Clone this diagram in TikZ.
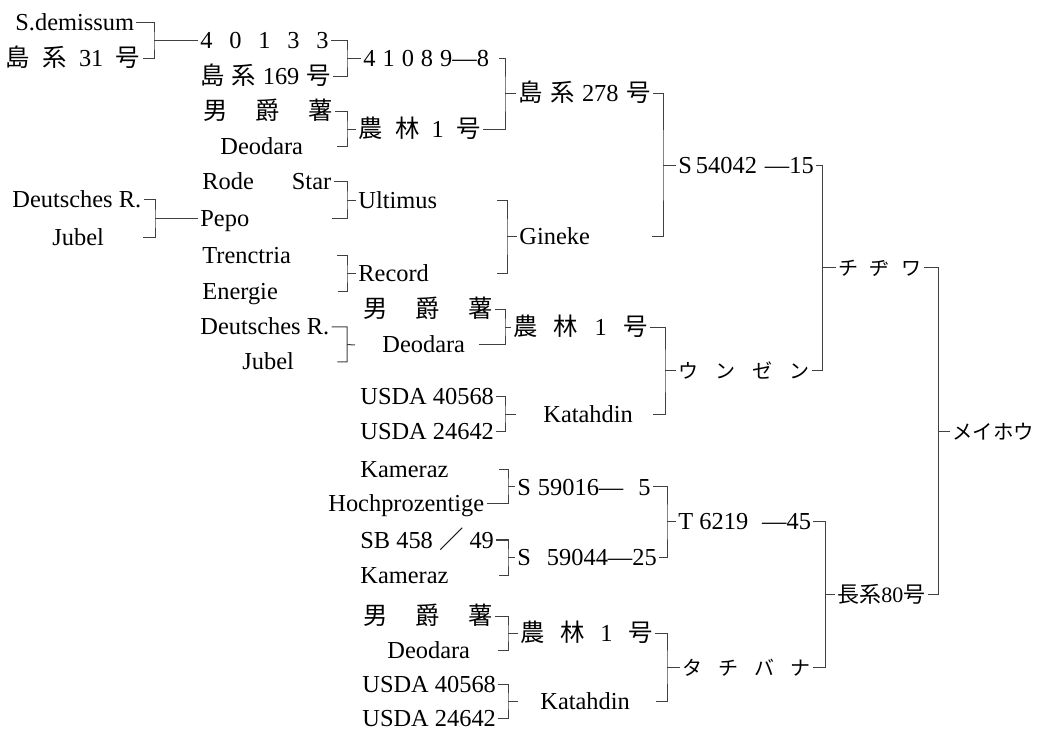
\documentclass[tikz,border=0pt]{standalone}
\usepackage{fontspec}
\setmainfont{Liberation Serif}
\newfontfamily\jfont{Noto Sans CJK JP}
\usepackage{tikz}
\newcommand{\jp}[1]{{\jfont #1}}
\newcommand{\kana}[1]{{\jfont\fontsize{10pt}{12pt}\selectfont #1}}
\newcommand{\pad}[1]{\hspace{#1}\mbox{}}
\tikzstyle{cultivar} = [anchor=west, inner xsep=1pt, inner ysep=0pt, text height=10pt, text depth=2pt, font=\fontsize{12.2pt}{14pt}\selectfont]
\tikzstyle{bracket} = [line width=0.5pt, black!75]

\begin{document}
\begin{tikzpicture}[x=0.5pt, y=-0.5pt]
\useasboundingbox (0,0) rectangle (1038,731);

\node (sdem) [cultivar] at (13,23) {S.demissum};
\node (shima31) [cultivar] at (3,59) {\jp{島}\hspace{6.2pt}\jp{系}\hspace{6.2pt}31\hspace{6.2pt}\jp{号}};
\node (deu1) [cultivar] at (10,200) {Deutsches R.};
\node (jub1) [cultivar] at (50,238) {Jubel\pad{18.5pt}};

\node (c40133) [cultivar] at (198,41) {4\hspace{8.4pt}0\hspace{8.4pt}1\hspace{8.4pt}3\hspace{8.4pt}3};
\node (shima169) [cultivar] at (198,77) {\jp{島}\hspace{3.4pt}\jp{系}\hspace{3.4pt}169\hspace{3.4pt}\jp{号}};
\node (dan1) [cultivar] at (201,112) {\jp{男}\hspace{14pt}\jp{爵}\hspace{14pt}\jp{薯}};
\node (deo1) [cultivar] at (218,147) {Deodara\pad{16pt}};
\node (rode) [cultivar] at (200,182) {Rode\hspace{19pt}Star};
\node (pepo) [cultivar] at (198,219) {Pepo\pad{40pt}};
\node (tren) [cultivar] at (200,256) {Trenctria\pad{22pt}};
\node (ener) [cultivar] at (200,292) {Energie\pad{29pt}};
\node (deu2) [cultivar] at (198,327) {Deutsches R.};
\node (jub2) [cultivar] at (240,362) {Jubel\pad{20.5pt}};
\node (dan2) [cultivar] at (361,310) {\jp{男}\hspace{14pt}\jp{爵}\hspace{14pt}\jp{薯}};
\node (deo2) [cultivar] at (355,345) {\hspace{12.5pt}Deodara\pad{6pt}};
\node (usda1) [cultivar] at (358,397) {USDA 40568};
\node (usda2) [cultivar] at (358,432) {USDA 24642};
\node (kam1) [cultivar] at (358,470) {Kameraz\pad{24pt}};
\node (hoch) [cultivar] at (326,504) {Hochprozentige};
\node (sb458) [cultivar] at (358,540) {SB 458 \jp{／} 49};
\node (kam2) [cultivar] at (358,575) {Kameraz\pad{24pt}};
\node (dan3) [cultivar] at (361,616) {\jp{男}\hspace{14pt}\jp{爵}\hspace{14pt}\jp{薯}};
\node (deo3) [cultivar] at (385,650) {Deodara\pad{13pt}};
\node (usda3) [cultivar] at (360,684) {USDA 40568};
\node (usda4) [cultivar] at (360,718) {USDA 24642};

\node (c41089) [cultivar] at (361,59) {4\hspace{3.5pt}1\hspace{3.5pt}0\hspace{3.5pt}8\hspace{3.5pt}9---8\pad{4pt}};
\node (norin1) [cultivar] at (356,129.5) {\jp{農}\hspace{6.1pt}\jp{林}\hspace{6.1pt}1\hspace{6.1pt}\jp{号}};
\node (ulti) [cultivar] at (356,200.5) {Ultimus\pad{29pt}};
\node (rec) [cultivar] at (356,274) {Record\pad{33pt}};
\node (norin2) [cultivar] at (511,327.5) {\jp{農}\hspace{8.1pt}\jp{林}\hspace{8.1pt}1\hspace{8.1pt}\jp{号}};
\node (kat1) [cultivar] at (516,414.5) {\hspace{12.5pt}Katahdin\pad{9pt}};
\node (s59016) [cultivar] at (515,487) {S\hspace{3.5pt}59016---\hspace{7.5pt}5};
\node (s59044) [cultivar] at (515,557.5) {S\hspace{8pt}59044---25};
\node (norin3) [cultivar] at (518,633) {\jp{農}\hspace{7.8pt}\jp{林}\hspace{7.8pt}1\hspace{7.8pt}\jp{号}};
\node (kat2) [cultivar] at (518,701) {\hspace{10pt}Katahdin\pad{12pt}};

\node (shima278) [cultivar] at (516,94) {\jp{島}\hspace{3.7pt}\jp{系}\hspace{3.7pt}278\hspace{3.7pt}\jp{号}};
\node (gin) [cultivar] at (517,237) {Gineke\pad{30pt}};

\node (s54042) [cultivar] at (676,165.5) {S\hspace{2pt}54042\hspace{4pt}---15};
\node (unzen) [cultivar] at (676,371) {\kana{ウ}\hspace{8.5pt}\kana{ン}\hspace{8.5pt}\kana{ゼ}\hspace{8.5pt}\kana{ン}};
\node (t6219) [cultivar] at (676,522) {T 6219\hspace{7pt}---45};
\node (tachi) [cultivar] at (680,667) {\kana{タ}\hspace{8pt}\kana{チ}\hspace{8pt}\kana{バ}\hspace{8pt}\kana{ナ}};

\node (chiji) [cultivar] at (836,268) {\kana{チ}\hspace{5.75pt}\kana{ヂ}\hspace{5.75pt}\kana{ワ}};
\node (naga80) [cultivar] at (835,594.5) {\fontsize{11pt}{13pt}\selectfont\jp{長系}80\jp{号}};

\node (meiho) [cultivar] at (950,431.5) {\jfont\fontsize{10.2pt}{12pt}\selectfont メイホウ};

\coordinate (jA) at (154,41);
\coordinate (jB) at (155,219);
\coordinate (jC) at (347,59);
\coordinate (jD) at (347,129.5);
\coordinate (jE) at (347,200.5);
\coordinate (jF) at (347,274);
\coordinate (jG) at (347,344.5);
\coordinate (jH) at (505,94);
\coordinate (jI) at (507,237);
\coordinate (jJ) at (663,165.5);
\coordinate (jK) at (505,327.5);
\coordinate (jL) at (505,414.5);
\coordinate (jM) at (665,371);
\coordinate (jN) at (822,268);
\coordinate (jO) at (508,487);
\coordinate (jP) at (508,557.5);
\coordinate (jQ) at (667,522);
\coordinate (jR) at (508,633);
\coordinate (jS) at (508,701);
\coordinate (jT) at (667,667);
\coordinate (jU) at (825,594.5);
\coordinate (jV) at (938,431.5);

\draw [bracket] (sdem.east) -| (jA) |- (shima31.east) (jA) -- (c40133.west);
\draw [bracket] (deu1.east) -| (jB) |- (jub1.east) (jB) -- (pepo.west);
\draw [bracket] (c40133.east) -| (jC) |- (shima169.east) (jC) -- (c41089.west);
\draw [bracket] (dan1.east) -| (jD) |- (deo1.east) (jD) -- (norin1.west);
\draw [bracket] (rode.east) -| (jE) |- (pepo.east) (jE) -- (ulti.west);
\draw [bracket] (tren.east) -| (jF) |- (ener.east) (jF) -- (rec.west);
\draw [bracket] (deu2.east) -| (jG) |- (jub2.east) (jG) -- (deo2.west);
\draw [bracket] (c41089.east) -| (jH) |- (norin1.east) (jH) -- (shima278.west);
\draw [bracket] (ulti.east) -| (jI) |- (rec.east) (jI) -- (gin.west);
\draw [bracket] (shima278.east) -| (jJ) |- (gin.east) (jJ) -- (s54042.west);
\draw [bracket] (dan2.east) -| (jK) |- (deo2.east) (jK) -- (norin2.west);
\draw [bracket] (usda1.east) -| (jL) |- (usda2.east) (jL) -- (kat1.west);
\draw [bracket] (norin2.east) -| (jM) |- (kat1.east) (jM) -- (unzen.west);
\draw [bracket] (s54042.east) -| (jN) |- (unzen.east) (jN) -- (chiji.west);
\draw [bracket] (kam1.east) -| (jO) |- (hoch.east) (jO) -- (s59016.west);
\draw [bracket] (sb458.east) -| (jP) |- (kam2.east) (jP) -- (s59044.west);
\draw [bracket] (s59016.east) -| (jQ) |- (s59044.east) (jQ) -- (t6219.west);
\draw [bracket] (dan3.east) -| (jR) |- (deo3.east) (jR) -- (norin3.west);
\draw [bracket] (usda3.east) -| (jS) |- (usda4.east) (jS) -- (kat2.west);
\draw [bracket] (norin3.east) -| (jT) |- (kat2.east) (jT) -- (tachi.west);
\draw [bracket] (t6219.east) -| (jU) |- (tachi.east) (jU) -- (naga80.west);
\draw [bracket] (chiji.east) -| (jV) |- (naga80.east) (jV) -- (meiho.west);

\end{tikzpicture}
\end{document}
